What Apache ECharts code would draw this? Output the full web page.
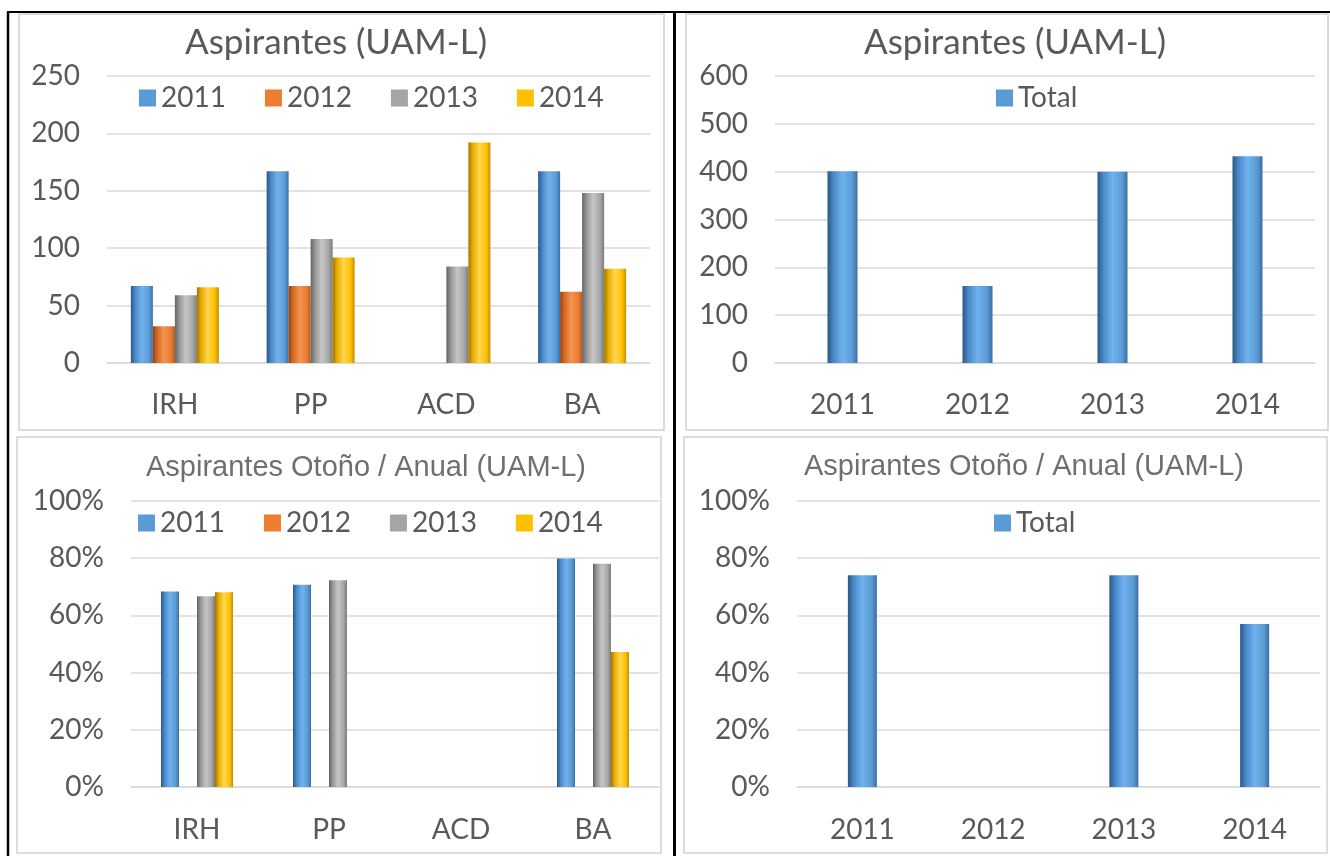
<!DOCTYPE html>
<html>
<head>
    <meta charset="utf-8">
    <title>Aspirantes (UAM-L)</title>
    <script src="https://cdn.jsdelivr.net/npm/echarts@6/dist/echarts.min.js"></script>
    <style>
        html, body { margin: 0; padding: 0; background: #fff; }
    </style>
</head>
<body>
<div id="chart" style="width: 1330px; height: 856px;"></div>
<script>
    // categorias y años
    var categories = ['IRH', 'PP', 'ACD', 'BA'];
    var years = ['2011', '2012', '2013', '2014'];

    // aspirantes por programa (arriba izquierda)
    var asp2011 = [67, 167, 0, 167];
    var asp2012 = [32, 67, 0, 62];
    var asp2013 = [59, 108, 84, 148];
    var asp2014 = [66, 92, 192, 82];
    // total por año (arriba derecha)
    var aspTotal = [401, 161, 400, 432];

    // otoño / anual en % (abajo izquierda)
    var pct2011 = [68.4, 70.7, 0, 79.9];
    var pct2012 = [0, 0, 0, 0];
    var pct2013 = [66.7, 72.3, 0, 78.1];
    var pct2014 = [68.1, 0, 0, 47.2];
    // total % por año (abajo derecha)
    var pctTotal = [74, 0, 74, 57];

    var yTicks1 = [0, 50, 100, 150, 200, 250];
    var yTicks2 = [0, 100, 200, 300, 400, 500, 600];
    var pctTicks = [0, 20, 40, 60, 80, 100];

    var baseColors = {
        '2011': ['#2a5785', '#4a89c8', '#6fb2ee', '#5b9bd5', '#3a6ea3'],
        '2012': ['#963f10', '#d46a24', '#f4934f', '#ed7d31', '#b35a1d'],
        '2013': ['#636363', '#969696', '#c6c6c6', '#a5a5a5', '#7c7c7c'],
        '2014': ['#9e7500', '#e8ad00', '#ffd64e', '#ffc000', '#bf9000']
    };
    var flatColors = { '2011': '#5b9bd5', '2012': '#ed7d31', '2013': '#a5a5a5', '2014': '#ffc000', 'Total': '#5b9bd5' };

    function grad(key) {
        var c = baseColors[key];
        return new echarts.graphic.LinearGradient(0, 0, 1, 0, [
            { offset: 0, color: c[0] },
            { offset: 0.2, color: c[1] },
            { offset: 0.5, color: c[2] },
            { offset: 0.82, color: c[3] },
            { offset: 1, color: c[4] }
        ]);
    }

    var font = 'Lato, "Open Sans", sans-serif';
    var txt = '#595959';
    var gridCol = '#d9d9d9';

    function xAx(idx, data, margin) {
        return {
            type: 'category', gridIndex: idx, data: data,
            axisTick: { show: false },
            axisLine: { lineStyle: { color: gridCol, width: 1.5 } },
            axisLabel: { color: txt, fontSize: 28, fontFamily: font, margin: margin }
        };
    }
    function yAx(idx, ticks, pct) {
        return {
            type: 'value', gridIndex: idx,
            min: ticks[0], max: ticks[ticks.length - 1], interval: ticks[1] - ticks[0],
            axisLine: { show: false }, axisTick: { show: false },
            splitLine: { lineStyle: { color: gridCol, width: 1.5 } },
            axisLabel: { color: txt, fontSize: 28, fontFamily: font, margin: 27,
                formatter: pct ? '{value}%' : '{value}' }
        };
    }
    function legendData(names) {
        return names.map(function (n) {
            return { name: n, itemStyle: { color: flatColors[n] } };
        });
    }
    function legend(names, left, top, gap) {
        return {
            data: legendData(names), left: left, top: top,
            itemWidth: 17, itemHeight: 17, itemGap: gap,
            icon: 'rect', selectedMode: false,
            textStyle: { color: txt, fontSize: 28, fontFamily: font, padding: [0, 0, 0, 0] }
        };
    }
    function titleOf(text, x, y, size, fam, col) {
        return {
            text: text, left: x, top: y, textAlign: 'center',
            textStyle: { fontSize: size, fontWeight: 'normal', fontFamily: fam, color: col }
        };
    }

    var yearSeries1 = [asp2011, asp2012, asp2013, asp2014];
    var yearSeries3 = [pct2011, pct2012, pct2013, pct2014];

    var series = [];
    years.forEach(function (y, i) {
        series.push({
            name: y, type: 'bar', xAxisIndex: 0, yAxisIndex: 0,
            data: yearSeries1[i], barWidth: 22, barGap: '0%',
            itemStyle: { color: grad(y) }
        });
    });
    series.push({
        name: 'Total', type: 'bar', xAxisIndex: 1, yAxisIndex: 1,
        data: aspTotal, barWidth: 30, itemStyle: { color: grad('2011') }
    });
    years.forEach(function (y, i) {
        series.push({
            name: y, type: 'bar', xAxisIndex: 2, yAxisIndex: 2,
            data: yearSeries3[i], barWidth: 18, barGap: '0%',
            itemStyle: { color: grad(y) }
        });
    });
    series.push({
        name: 'Total', type: 'bar', xAxisIndex: 3, yAxisIndex: 3,
        data: pctTotal, barWidth: 29, itemStyle: { color: grad('2011') }
    });

    // marcos del documento
    function box(x1, y1, x2, y2) {
        return { type: 'rect', shape: { x: x1, y: y1, width: x2 - x1, height: y2 - y1 },
            style: { fill: null, stroke: '#dcdcdc', lineWidth: 2 }, z: -1 };
    }
    function line(x1, y1, x2, y2, w) {
        return { type: 'line', shape: { x1: x1, y1: y1, x2: x2, y2: y2 },
            style: { stroke: '#000', lineWidth: w } };
    }

    var chart = echarts.init(document.getElementById('chart'));
    chart.setOption({
        animation: false,
        backgroundColor: '#fff',
        title: [
            titleOf('Aspirantes (UAM-L)', 331, 20, 35, font, txt),
            titleOf('Aspirantes (UAM-L)', 1010, 20, 35, font, txt),
            titleOf('Aspirantes Otoño / Anual (UAM-L)', 361, 448, 29, '"Liberation Sans", Arial, sans-serif', '#6f6f6f'),
            titleOf('Aspirantes Otoño / Anual (UAM-L)', 1019, 447, 29, '"Liberation Sans", Arial, sans-serif', '#6f6f6f')
        ],
        legend: [
            legend(years, 134, 79, 39),
            legend(['Total'], 991, 79, 10),
            legend(years, 133, 504, 39),
            legend(['Total'], 989, 504, 10)
        ],
        grid: [
            { left: 107, top: 76, width: 543, height: 287 },
            { left: 775, top: 76, width: 540, height: 287 },
            { left: 131, top: 501, width: 528, height: 286 },
            { left: 797, top: 501, width: 523, height: 286 }
        ],
        xAxis: [xAx(0, categories, 28), xAx(1, years, 28), xAx(2, categories, 29), xAx(3, years, 29)],
        yAxis: [yAx(0, yTicks1, false), yAx(1, yTicks2, false), yAx(2, pctTicks, true), yAx(3, pctTicks, true)],
        series: series,
        graphic: [
            box(19, 14, 664, 430),
            box(686, 14, 1328, 430),
            box(17, 437, 661, 853),
            box(684, 437, 1327, 853),
            line(7, 12, 1330, 12, 2),
            line(8, 12, 8, 856, 2.5),
            line(674.5, 12, 674.5, 856, 3)
        ]
    });
</script>
</body>
</html>
